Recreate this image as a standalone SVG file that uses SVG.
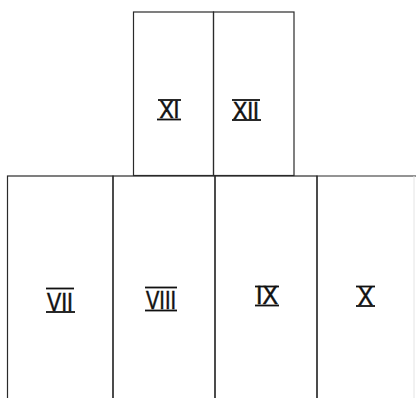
<svg xmlns="http://www.w3.org/2000/svg" width="416" height="398" viewBox="0 0 416 398">
<style>
.box{fill:none;stroke:#2a2a2a;stroke-width:1.2}
.bar{stroke:#111;stroke-width:1.8}
.lbl{font-family:"Liberation Sans",Arial,sans-serif;fill:#111;stroke:#111;stroke-width:0.5;text-anchor:middle}
.top{font-size:23px}
.bot{font-size:26px}
</style>
<rect width="416" height="398" fill="#fff"/>
<g id="connectors"></g>
<g id="node-XI">
<rect class="box" x="133.5" y="12" width="80" height="163.5"/>
<line class="bar" x1="158" y1="100" x2="181" y2="100"/>
<text class="lbl top" x="169.5" y="118" textLength="20" lengthAdjust="spacingAndGlyphs">XI</text>
<line class="bar" x1="157" y1="119.5" x2="181" y2="119.5"/>
</g>
<g id="node-XII">
<rect class="box" x="213.5" y="12" width="80.5" height="163.5"/>
<line class="bar" x1="232" y1="100" x2="260" y2="100"/>
<text class="lbl top" x="246" y="118.5" textLength="26" lengthAdjust="spacingAndGlyphs">XII</text>
<line class="bar" x1="232" y1="120" x2="261" y2="120"/>
</g>
<g id="node-VII">
<rect class="box" x="7.5" y="176" width="105.5" height="230"/>
<line class="bar" x1="46" y1="288.5" x2="74" y2="288.5"/>
<text class="lbl bot" x="60" y="310.5" textLength="26" lengthAdjust="spacingAndGlyphs">VII</text>
<line class="bar" x1="46" y1="312" x2="75" y2="312"/>
</g>
<g id="node-VIII">
<rect class="box" x="113" y="176" width="102" height="230"/>
<line class="bar" x1="145" y1="287.5" x2="177" y2="287.5"/>
<text class="lbl bot" x="161" y="309" textLength="30" lengthAdjust="spacingAndGlyphs">VIII</text>
<line class="bar" x1="145" y1="310.5" x2="177" y2="310.5"/>
</g>
<g id="node-IX">
<rect class="box" x="215" y="176" width="102" height="230"/>
<line class="bar" x1="255" y1="286.5" x2="279" y2="286.5"/>
<text class="lbl bot" x="267" y="304" textLength="22" lengthAdjust="spacingAndGlyphs">IX</text>
<line class="bar" x1="255" y1="305.5" x2="279" y2="305.5"/>
</g>
<g id="node-X">
<polyline class="box" points="317,406 317,176 416,176"/>
<line x1="414" y1="176" x2="414" y2="398" stroke="#e4e4e4" stroke-width="1"/>
<line class="bar" x1="356" y1="286.5" x2="375" y2="286.5"/>
<text class="lbl bot" x="365.5" y="304.5" textLength="15" lengthAdjust="spacingAndGlyphs">X</text>
<line class="bar" x1="356" y1="306" x2="375" y2="306"/>
</g>
</svg>
